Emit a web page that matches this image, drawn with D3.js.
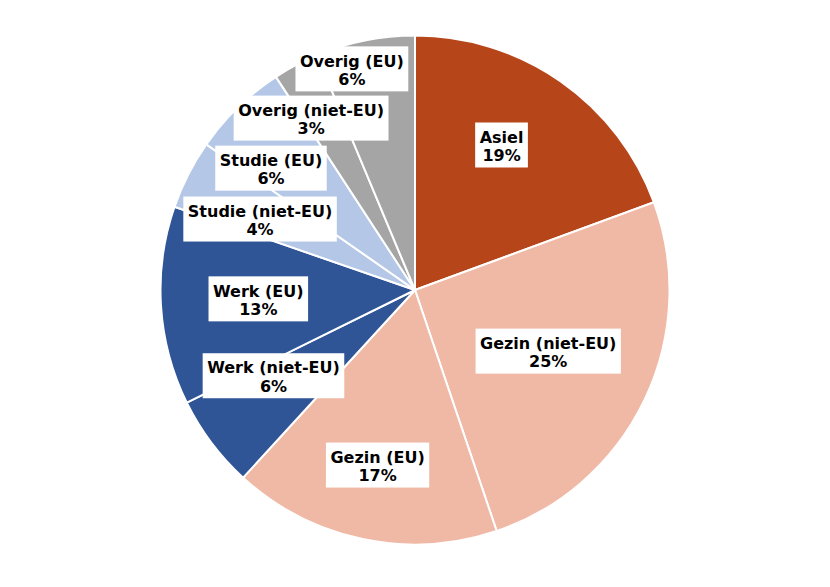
<!DOCTYPE html>
<html>
<head>
<meta charset="utf-8">
<script src="https://cdn.jsdelivr.net/npm/d3@7"></script>
<style>
  html, body { margin: 0; padding: 0; background: #ffffff; }
  svg { display: block; }
</style>
</head>
<body>
<svg id="chart" width="830" height="587"></svg>
<script>
// ---- data ----
const categories = ["Asiel", "Gezin (niet-EU)", "Gezin (EU)", "Werk (niet-EU)", "Werk (EU)",
                    "Studie (niet-EU)", "Studie (EU)", "Overig (niet-EU)", "Overig (EU)"];
const values = [19.4, 25.4, 17.0, 5.9, 12.6, 4.4, 6.1, 2.9, 6.3];
const percentLabels = ["19%", "25%", "17%", "6%", "13%", "4%", "6%", "3%", "6%"];

// ---- styling / layout ----
const colors = ["#B7451A", "#F0B9A6", "#F0B9A6", "#2F5597", "#2F5597",
                "#B4C7E7", "#B4C7E7", "#A5A5A5", "#A5A5A5"];
// label placement: distance from centre (px) and angle (degrees, clockwise from top)
const labelDist = [168, 147, 180, 166, 157, 170, 188, 200, 229];
const labelAngle = [31, 115, 192, 238.5, 266.4, 294.3, 310, 328.7, 344];

const cx = 415, cy = 290, r = 254.5;
const svg = d3.select("#chart");
const g = svg.append("g").attr("transform", `translate(${cx},${cy})`);

const data = categories.map((c, i) => ({ name: c, value: values[i], pct: percentLabels[i], i }));
const pie = d3.pie().value(d => d.value).sort(null);
const arc = d3.arc().innerRadius(0).outerRadius(r);
const arcs = pie(data);

g.selectAll("path.slice").data(arcs).enter().append("path")
  .attr("class", "slice")
  .attr("d", arc)
  .attr("fill", d => colors[d.data.i])
  .attr("stroke", "#ffffff")
  .attr("stroke-width", 2)
  .attr("stroke-linejoin", "round");

const fontSize = 16;
const labels = g.selectAll("g.lab").data(arcs).enter().append("g")
  .attr("class", "lab")
  .attr("transform", d => {
    const a = labelAngle[d.data.i] * Math.PI / 180;
    const dist = labelDist[d.data.i];
    return `translate(${dist * Math.sin(a)},${-dist * Math.cos(a)})`;
  });

labels.each(function(d) {
  const sel = d3.select(this);
  const rect = sel.append("rect").attr("fill", "#ffffff");
  const t = sel.append("text")
    .attr("text-anchor", "middle")
    .attr("font-family", "DejaVu Sans, Verdana, sans-serif")
    .attr("font-weight", "bold")
    .attr("font-size", fontSize)
    .attr("fill", "#000000");
  t.append("tspan").attr("x", 0).attr("y", -3.3).text(d.data.name);
  t.append("tspan").attr("x", 0).attr("y", 15).text(d.data.pct);
  const bb = t.node().getBBox();
  const padX = 4.5;
  const w = bb.width + padX * 2;
  const h = 45;
  rect.attr("x", -w / 2).attr("y", -h / 2 - 1).attr("width", w).attr("height", h);
});
</script>
</body>
</html>
